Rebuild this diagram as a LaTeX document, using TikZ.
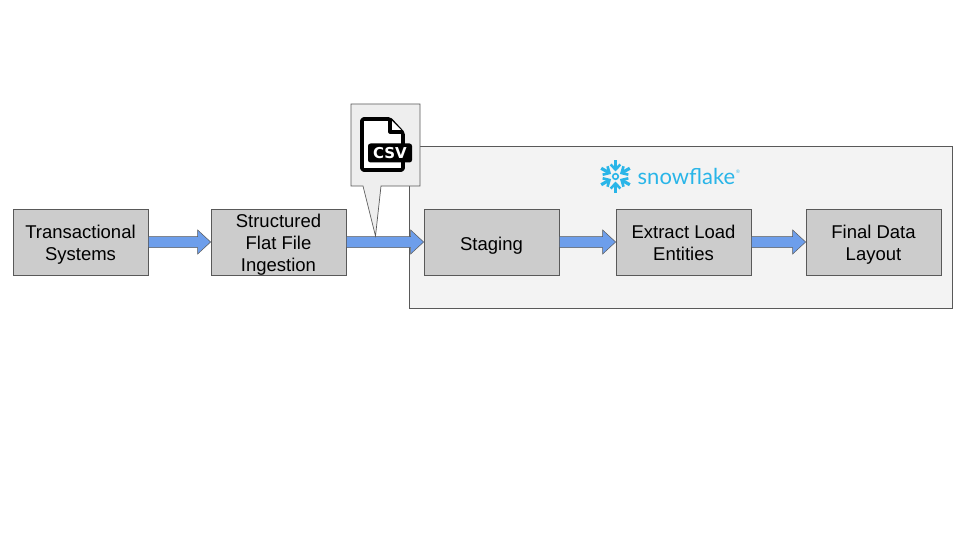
\documentclass[tikz,border=0pt]{standalone}
\usepackage{fontspec}
\setmainfont{Liberation Sans}
\newfontfamily\logofont{Lato}
\newfontfamily\tagfont{DejaVu Sans}
\usetikzlibrary{calc}
\definecolor{boxgrey}{HTML}{CCCCCC}
\definecolor{linegrey}{HTML}{595959}
\definecolor{panelgrey}{HTML}{F3F3F3}
\definecolor{notegrey}{HTML}{EEEEEE}
\definecolor{flowblue}{HTML}{6D9EEB}
\definecolor{flakeblue}{HTML}{29B5E8}
\tikzset{
stagebox/.style={draw=linegrey, line width=0.7pt, fill=boxgrey, minimum width=135pt, minimum height=66pt, inner sep=0pt},
stagetext/.style={inner sep=0pt, yshift=-4.5pt, align=center, font=\fontsize{18.5}{22}\selectfont, execute at begin node=\strut, execute at end node=\strut},
panelbox/.style={draw=linegrey, line width=0.7pt, fill=panelgrey, minimum width=543pt, minimum height=162pt, inner sep=0pt},
notebox/.style={draw=linegrey, line width=0.7pt, fill=notegrey},
flowarrow/.style={draw=linegrey, line width=0.5pt, fill=flowblue},
csvfile/.pic={
  \draw[line width=3.6pt, line join=round, fill=white, rounded corners=1.5pt] (-14,-25) -- (14,-25) -- (27,-11) -- (27,26) -- (-14,26) -- cycle;
  \draw[line width=3.2pt, line join=round, fill=white] (14,-25) -- (14,-12) -- (27,-12);
  \node[fill=black, text=white, rounded corners=2.5pt, minimum width=44pt, minimum height=19pt, inner sep=0pt, font=\tagfont\bfseries\fontsize{15}{15}\selectfont] (csvtag) at (14,9) {CSV};
  },
flake/.pic={
  \foreach \a in {30,90,...,330} {
    \draw[flakeblue, line width=3.2pt] (\a:8) -- (\a:16.5);
    \draw[flakeblue, line width=2.6pt] (\a+22:13) -- (\a:7) -- (\a-22:13);
  }
  \draw[flakeblue, line width=1.6pt] (0,0) circle [radius=2.8];
  }
}
\newcommand{\flowto}[2]{
  \draw[flowarrow] ($(#1.east)+(0,-5.5)$) -- ($(#2.west)+(-13,-5.5)$) -- ($(#2.west)+(-13,-12)$) -- ($(#2.west)$)
    -- ($(#2.west)+(-13,12)$) -- ($(#2.west)+(-13,5.5)$) -- ($(#1.east)+(0,5.5)$) -- cycle;
}

\begin{document}
\begin{tikzpicture}[x=1pt, y=-1pt]
  \useasboundingbox (0,0) rectangle (960,540);
  \fill[white] (0,0) rectangle (960,540);

  \node[panelbox] (panel) at (680.5,227) {};

  \node[stagebox, label={[stagetext]center:{Transactional\\Systems}}] (source) at (80.5,242) {};
  \node[stagebox, label={[stagetext]center:{Structured\\Flat File\\Ingestion}}] (ingest) at (278.5,242) {};
  \node[stagebox, label={[stagetext]center:{Staging}}] (staging) at (491.5,242) {};
  \node[stagebox, label={[stagetext]center:{Extract Load\\Entities}}] (entities) at (683.5,242) {};
  \node[stagebox, label={[stagetext]center:{Final Data\\Layout}}] (final) at (873.5,242) {};

  \flowto{source}{ingest}
  \flowto{ingest}{staging}
  \flowto{staging}{entities}
  \flowto{entities}{final}

  % note over the ingest arrow
  \coordinate (notetip) at (375.5,236);
  \draw[notebox] (351,104) -- (420,104) -- (420,186) -- (381,186) -- (notetip) -- (363,186) -- (351,186) -- cycle;
  \pic at (376,144) {csvfile};

  % logo
  \pic at (615.5,176.5) {flake};
  \node[text=flakeblue, inner sep=0pt, anchor=west, font=\logofont\fontsize{22}{22}\selectfont] (logoname) at (637.5,176) {snowflake};
  \node[text=flakeblue, inner sep=0pt, font=\fontsize{5}{5}\selectfont] (logomark) at (738,172) {®};
\end{tikzpicture}
\end{document}
